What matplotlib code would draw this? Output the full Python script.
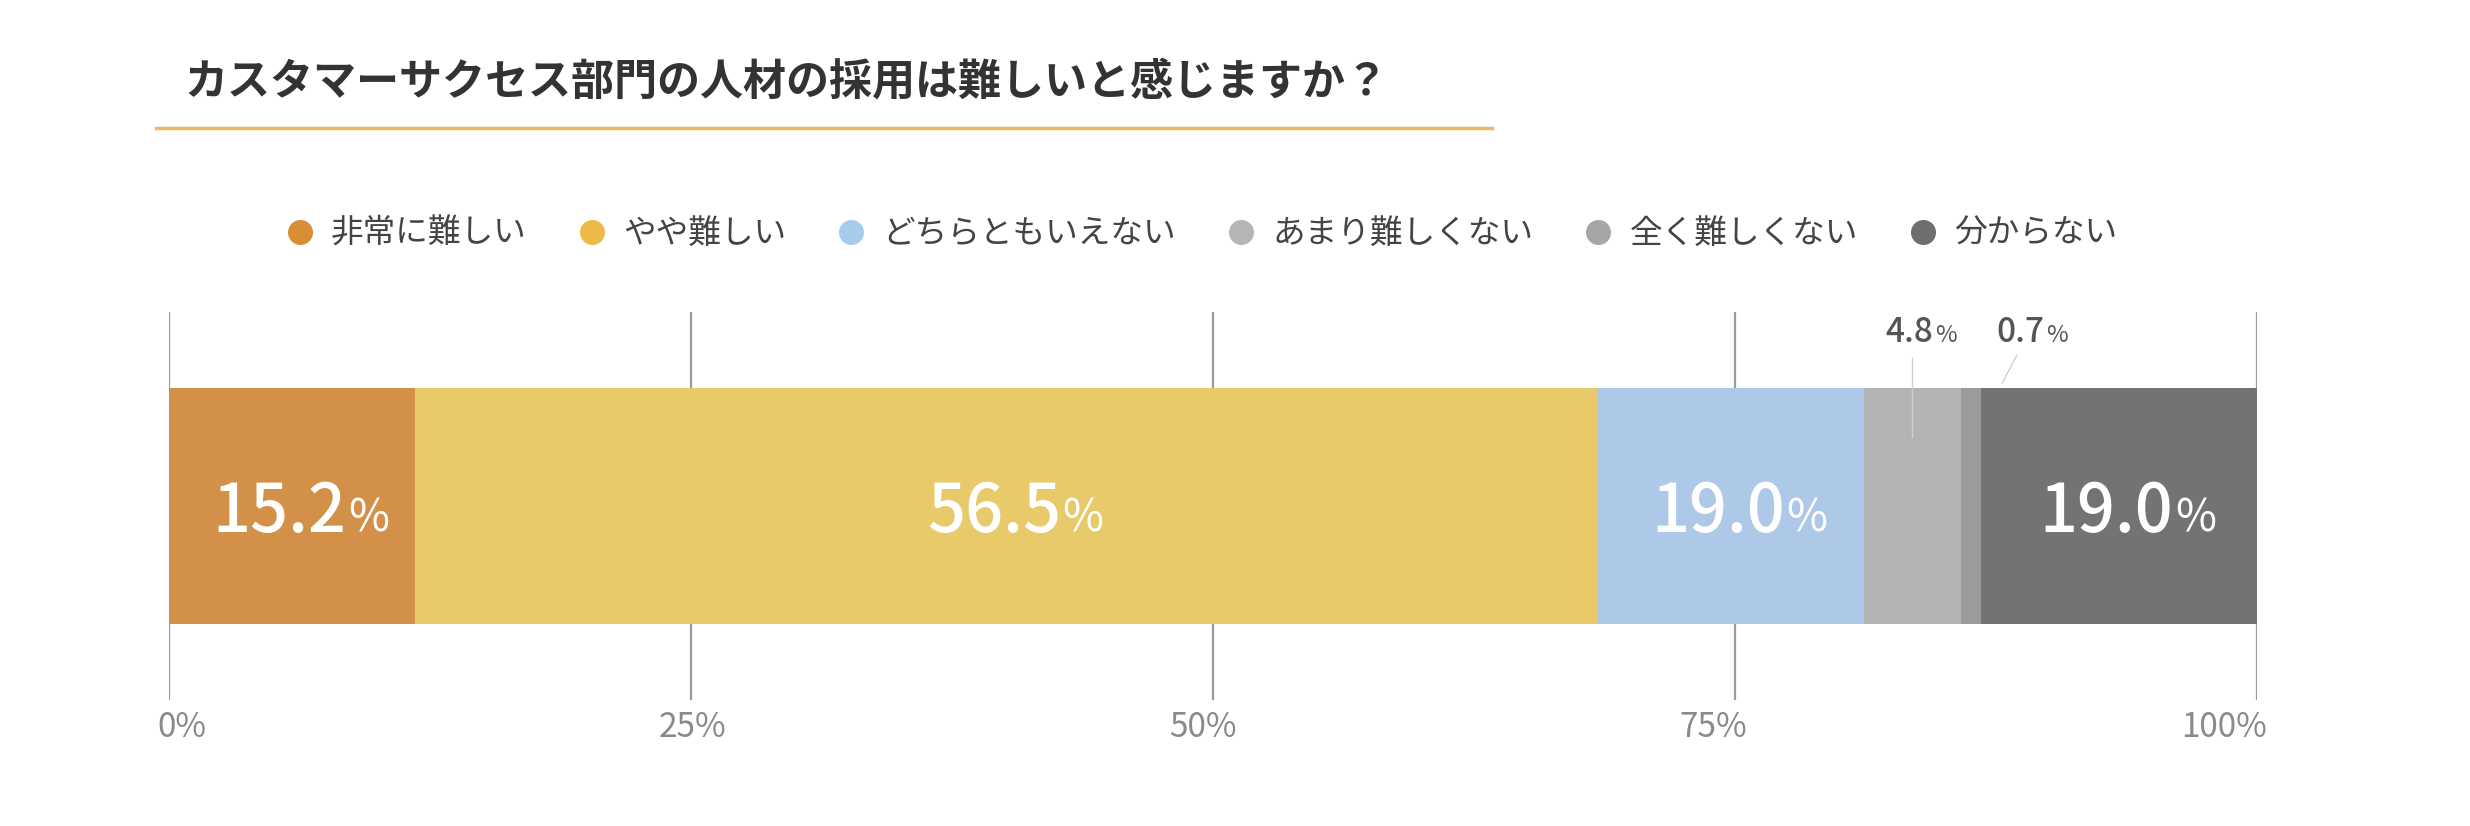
import matplotlib
matplotlib.use("Agg")
from matplotlib import pyplot as plt
from matplotlib.lines import Line2D
import numpy as np

plt.rcParams["font.family"] = ["Noto Sans CJK JP", "DejaVu Sans"]

title = "カスタマーサクセス部門の人材の採用は難しいと感じますか？"
categories = ["非常に難しい", "やや難しい", "どちらともいえない", "あまり難しくない", "全く難しくない", "分からない"]
# bar widths as drawn in the picture (share of the 0-100% axis)
bar_widths = [11.8, 56.6, 12.8, 4.6, 1.0, 13.2]
# labels printed on the bars
value_labels = ["15.2", "56.5", "19.0", "4.8", "0.7", "19.0"]
tick_values = [0, 25, 50, 75, 100]
tick_labels = ["0%", "25%", "50%", "75%", "100%"]

bar_colors = ["#D39048", "#E8CA6A", "#ADC9E7", "#B3B3B3", "#9B9B9B", "#727372"]
dot_colors = ["#D98D35", "#EDBA48", "#A7CBEC", "#B5B5B5", "#A6A6A6", "#6E6E6E"]

fig = plt.figure(figsize=(24.7, 8.26), dpi=100)
ax = fig.add_axes([169 / 2470, 1 - 700 / 826, 2088 / 2470, 388 / 826])

# title + underline
fig.text(184 / 2470, 1 - 82 / 826, title, fontsize=31, fontweight="bold",
         color="#333333", ha="left", va="center")
fig.add_artist(Line2D([156 / 2470, 1492 / 2470], [1 - 128 / 826] * 2,
                      color="#F2B466", lw=2.5, transform=fig.transFigure))

# legend
handles = [Line2D([], [], marker="o", linestyle="none", markersize=17,
                  markerfacecolor=c, markeredgecolor=c) for c in dot_colors]
fig.legend(handles, categories, loc="center", bbox_to_anchor=(1202 / 2470, 1 - 234 / 826),
           ncol=6, frameon=False, fontsize=23.5, labelcolor="#444444",
           handlelength=0.8, handletextpad=0.55, columnspacing=1.6)

# gridlines
for t in tick_values:
    ax.axvline(t, color="#9A9A9A", lw=1.6, zorder=0)

# stacked bar
lefts = np.concatenate([[0], np.cumsum(bar_widths)[:-1]])
ax.barh([0.5], bar_widths, left=lefts, height=0.608, color=bar_colors,
        edgecolor="none", zorder=2)

# value labels
outside_offsets = [0.2, 2.7]
k = 0
for left, width, label in zip(lefts, bar_widths, value_labels):
    cx = left + width / 2
    if width >= 8:
        num = ax.annotate(label, xy=(cx, 0.433), xycoords=("data", "axes fraction"),
                          xytext=(-9, 0), textcoords="offset points",
                          ha="center", va="baseline", fontsize=48, fontweight="medium",
                          color="white", zorder=3)
        ax.annotate("%", xy=(1, 0.433), xycoords=(num, ax.transAxes),
                    xytext=(1, 0), textcoords="offset points",
                    ha="left", va="baseline", fontsize=32, color="white", zorder=3)
    else:
        lx = cx + outside_offsets[k]
        num = ax.annotate(label, xy=(lx, 0.923), xycoords=("data", "axes fraction"),
                          xytext=(-5, 0), textcoords="offset points",
                          ha="center", va="baseline", fontsize=24, fontweight="medium",
                          color="#555555", zorder=3)
        ax.annotate("%", xy=(1, 0.923), xycoords=(num, ax.transAxes),
                    xytext=(1, 0), textcoords="offset points",
                    ha="left", va="baseline", fontsize=17, color="#555555", zorder=3)
        if k == 0:
            ax.plot([cx, cx], [0.881, 0.678], color="#CFCFCF", lw=1, zorder=3)
        else:
            ax.plot([lx - 0.5, lx - 1.2], [0.889, 0.817], color="#CFCFCF", lw=1, zorder=3)
        k += 1

# tick labels (spread slightly inside the outer gridlines)
label_pos = np.linspace(0.6, 98.4, len(tick_labels))
for x, s in zip(label_pos, tick_labels):
    ax.text(x, -0.072, s, transform=ax.get_xaxis_transform(), ha="center", va="center",
            fontsize=24, color="#8A8A8A")

ax.set_xlim(0, 100)
ax.set_ylim(0, 1)
ax.axis("off")

fig.savefig("out.png", dpi=100, facecolor="white")
